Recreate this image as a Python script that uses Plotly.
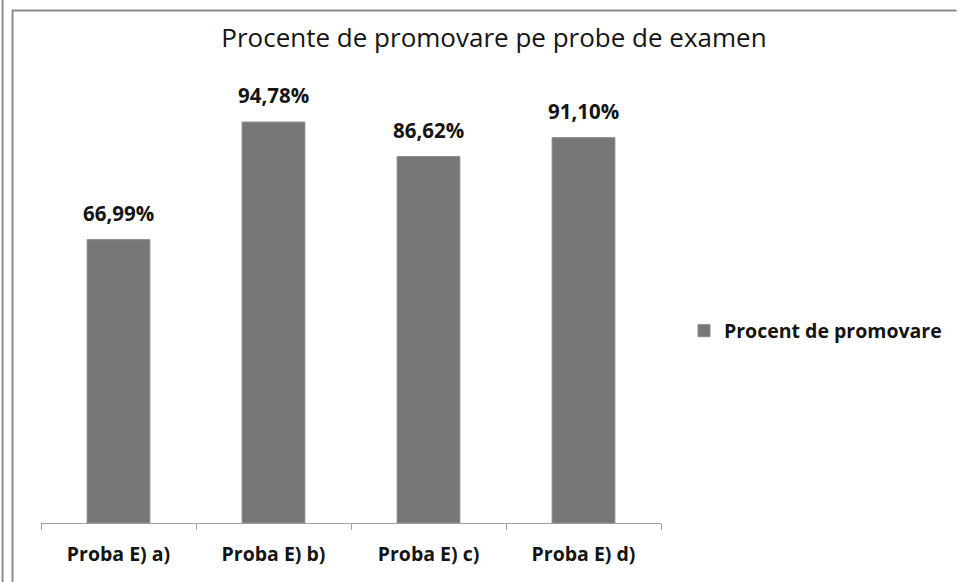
import plotly.graph_objects as go

categories = ["Proba E) a)", "Proba E) b)", "Proba E) c)", "Proba E) d)"]
values = [66.99, 94.78, 86.62, 91.10]
series_name = "Procent de promovare"
title_text = "Procente de promovare pe probe de examen"

W, H = 958, 582
L, R, T, B = 41, 296, 100, 59

def px_x(x):
    return (x - L) / (W - L - R)

def px_y(y):
    return (H - B - y) / (H - T - B)

labels = [f"{v:.2f}".replace(".", ",") + "%" for v in values]

FONT = "'Open Sans', sans-serif"
TXT = "#141414"

fig = go.Figure()
fig.add_trace(go.Bar(
    x=categories, y=values, name=f"<b>{series_name}</b>",
    marker=dict(color="#777777", line=dict(color="#8a8a8a", width=1)),
    width=0.405, showlegend=True,
))

annotations = [
    dict(x=c, y=v, xref="x", yref="y", text=f"<b>{t}</b>", showarrow=False,
         yanchor="bottom", yshift=11, font=dict(family=FONT, size=20.5, color=TXT))
    for c, v, t in zip(categories, values, labels)
]

shapes = [
    dict(type="line", xref="paper", yref="paper", x0=px_x(2.5), x1=px_x(2.5), y0=px_y(0), y1=px_y(H),
         line=dict(color="#8c8c8c", width=2)),
    dict(type="line", xref="paper", yref="paper", x0=px_x(12.5), x1=px_x(12.5), y0=px_y(10), y1=px_y(H),
         line=dict(color="#8c8c8c", width=2)),
    dict(type="line", xref="paper", yref="paper", x0=px_x(12), x1=px_x(W), y0=px_y(10.5), y1=px_y(10.5),
         line=dict(color="#8c8c8c", width=2)),
]

fig.update_layout(
    width=W, height=H,
    margin=dict(l=L, r=R, t=T, b=B),
    paper_bgcolor="white", plot_bgcolor="white",
    title=dict(text=title_text, x=494 / W, xref="container", xanchor="center",
               y=1 - 38 / H, yanchor="middle",
               font=dict(family=FONT, size=26, color=TXT)),
    xaxis=dict(type="category", showline=True, linecolor="#a0a0a0", linewidth=1,
               ticks="outside", tickson="boundaries", ticklen=6, tickcolor="#a0a0a0",
               tickfont=dict(family=FONT, size=19.5, color=TXT),
               ticklabelstandoff=14, showgrid=False, range=[-0.5, 3.5],
               tickprefix="<b>", ticksuffix="</b>"),
    yaxis=dict(range=[0, 100], visible=False, showgrid=False),
    legend=dict(x=px_x(684), y=px_y(331), xanchor="left", yanchor="middle",
                font=dict(family=FONT, size=19.5, color=TXT),
                itemwidth=30, bgcolor="rgba(0,0,0,0)"),
    annotations=annotations,
    shapes=shapes,
    bargap=0.6,
)

fig.write_html("out.html", config={"displayModeBar": False},
               post_script="document.body.style.margin='0';")
